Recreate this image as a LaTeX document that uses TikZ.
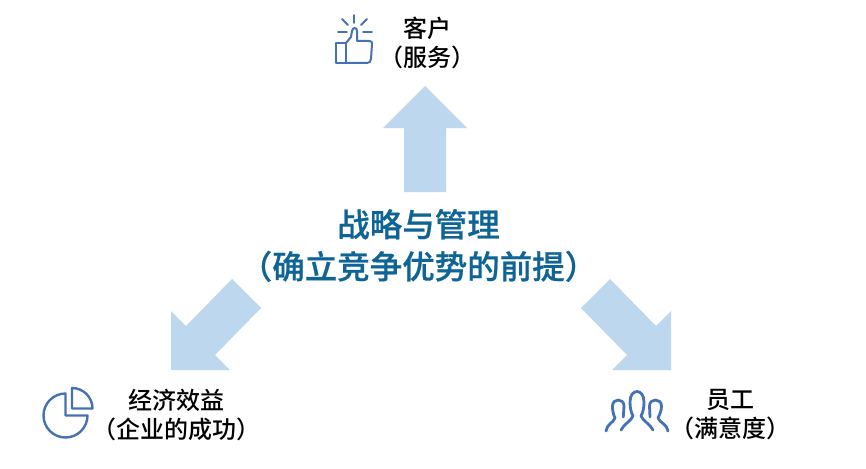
\documentclass[tikz,border=0pt]{standalone}
\usepackage{fontspec}
\setmainfont{Noto Sans CJK SC Medium}
\newfontfamily\titlefont[FakeBold=0.6]{Noto Sans CJK SC Medium}
\definecolor{arrowblue}{HTML}{BDD7EE}
\definecolor{iconblue}{HTML}{4472B4}
\definecolor{titleblue}{HTML}{0F6496}
\tikzset{
  bigarrow/.style={fill=arrowblue,draw=none},
  icon/.style={draw=iconblue,line width=2.4pt,line join=round,line cap=round,fill=none},
  ray/.style={icon,line width=1.8pt},
  label/.style={font=\fontsize{24}{29}\selectfont,align=center,text=black,inner sep=0pt},
  title/.style={font=\titlefont\fontsize{32.5}{42}\selectfont,align=center,text=titleblue,inner sep=0pt}
}
\begin{document}
\begin{tikzpicture}[x=1pt,y=-1pt]
\useasboundingbox (0,0) rectangle (866,468);
\fill[white] (0,0) rectangle (866,468);
% arrows
\fill[bigarrow] (425,86) -- (467,128) -- (446,128) -- (446,192) -- (404,192) -- (404,128) -- (383,128) -- cycle;
\fill[bigarrow] (171,370) -- (171,311) -- (186,326) -- (232,279) -- (261,308) -- (215,355) -- (230,370) -- cycle;
\fill[bigarrow] (671,370) -- (671,311) -- (656,326) -- (610,279) -- (581,308) -- (627,355) -- (612,370) -- cycle;
% texts
\node[title] (centre) at (418.5,245.5) {战略与管理\\（确立竞争优势的前提）};
\node[label] (customer) at (427,43) {客户\\（服务）};
\node[label] (finance) at (176.5,415) {经济效益\\（企业的成功）};
\node[label] (staff) at (730,415) {员工\\（满意度）};
% thumb icon
\draw[icon,line width=2pt] (336,43) rectangle (346,63);
\draw[icon,line width=2pt] (346,43) -- (351,37) -- (352,31) .. controls (352.5,27) and (357,27) .. (357,31) -- (357,41) -- (369,41)
  .. controls (371.5,41) and (372.5,42) .. (372,44) -- (371,59) .. controls (370.7,62) and (369,63) .. (367,63) -- (346,63);
\draw[ray] (354,15) -- (354,23);
\draw[ray] (342,19) -- (348,25);
\draw[ray] (367,19) -- (361,25);
\draw[ray] (338,32) -- (347,32);
\draw[ray] (363,32) -- (372,32);
% pie icon
\draw[icon] (65.5,393.5) arc[start angle=270,end angle=0,radius=22] -- (65.5,415.5) -- cycle;
\draw[icon] (72,388) arc[start angle=270,end angle=360,radius=20.5] -- (72,408.5) -- cycle;
% people icon
\draw[icon,line width=2.8pt] (606,431) .. controls (607,424) and (613,423) .. (615,418)
  .. controls (613,414) and (612.5,410) .. (612.5,406) .. controls (612.5,398) and (624,398) .. (624,406)
  -- (623.3,417);
\draw[icon,line width=2.8pt] (668,431) .. controls (667,424) and (660,423) .. (658,418)
  .. controls (660,414) and (661.5,410) .. (661.5,406) .. controls (661.5,398) and (649.5,398) .. (649.5,406)
  -- (650,417);
\draw[icon,line width=2.8pt] (621,430) .. controls (624,424) and (631,421) .. (633,416)
  .. controls (631,412) and (630,408) .. (630,402) .. controls (630,388) and (644,388) .. (644,402)
  .. controls (644,408) and (643,412) .. (641,416) .. controls (643,421) and (650,424) .. (653,430);
\end{tikzpicture}
\end{document}
